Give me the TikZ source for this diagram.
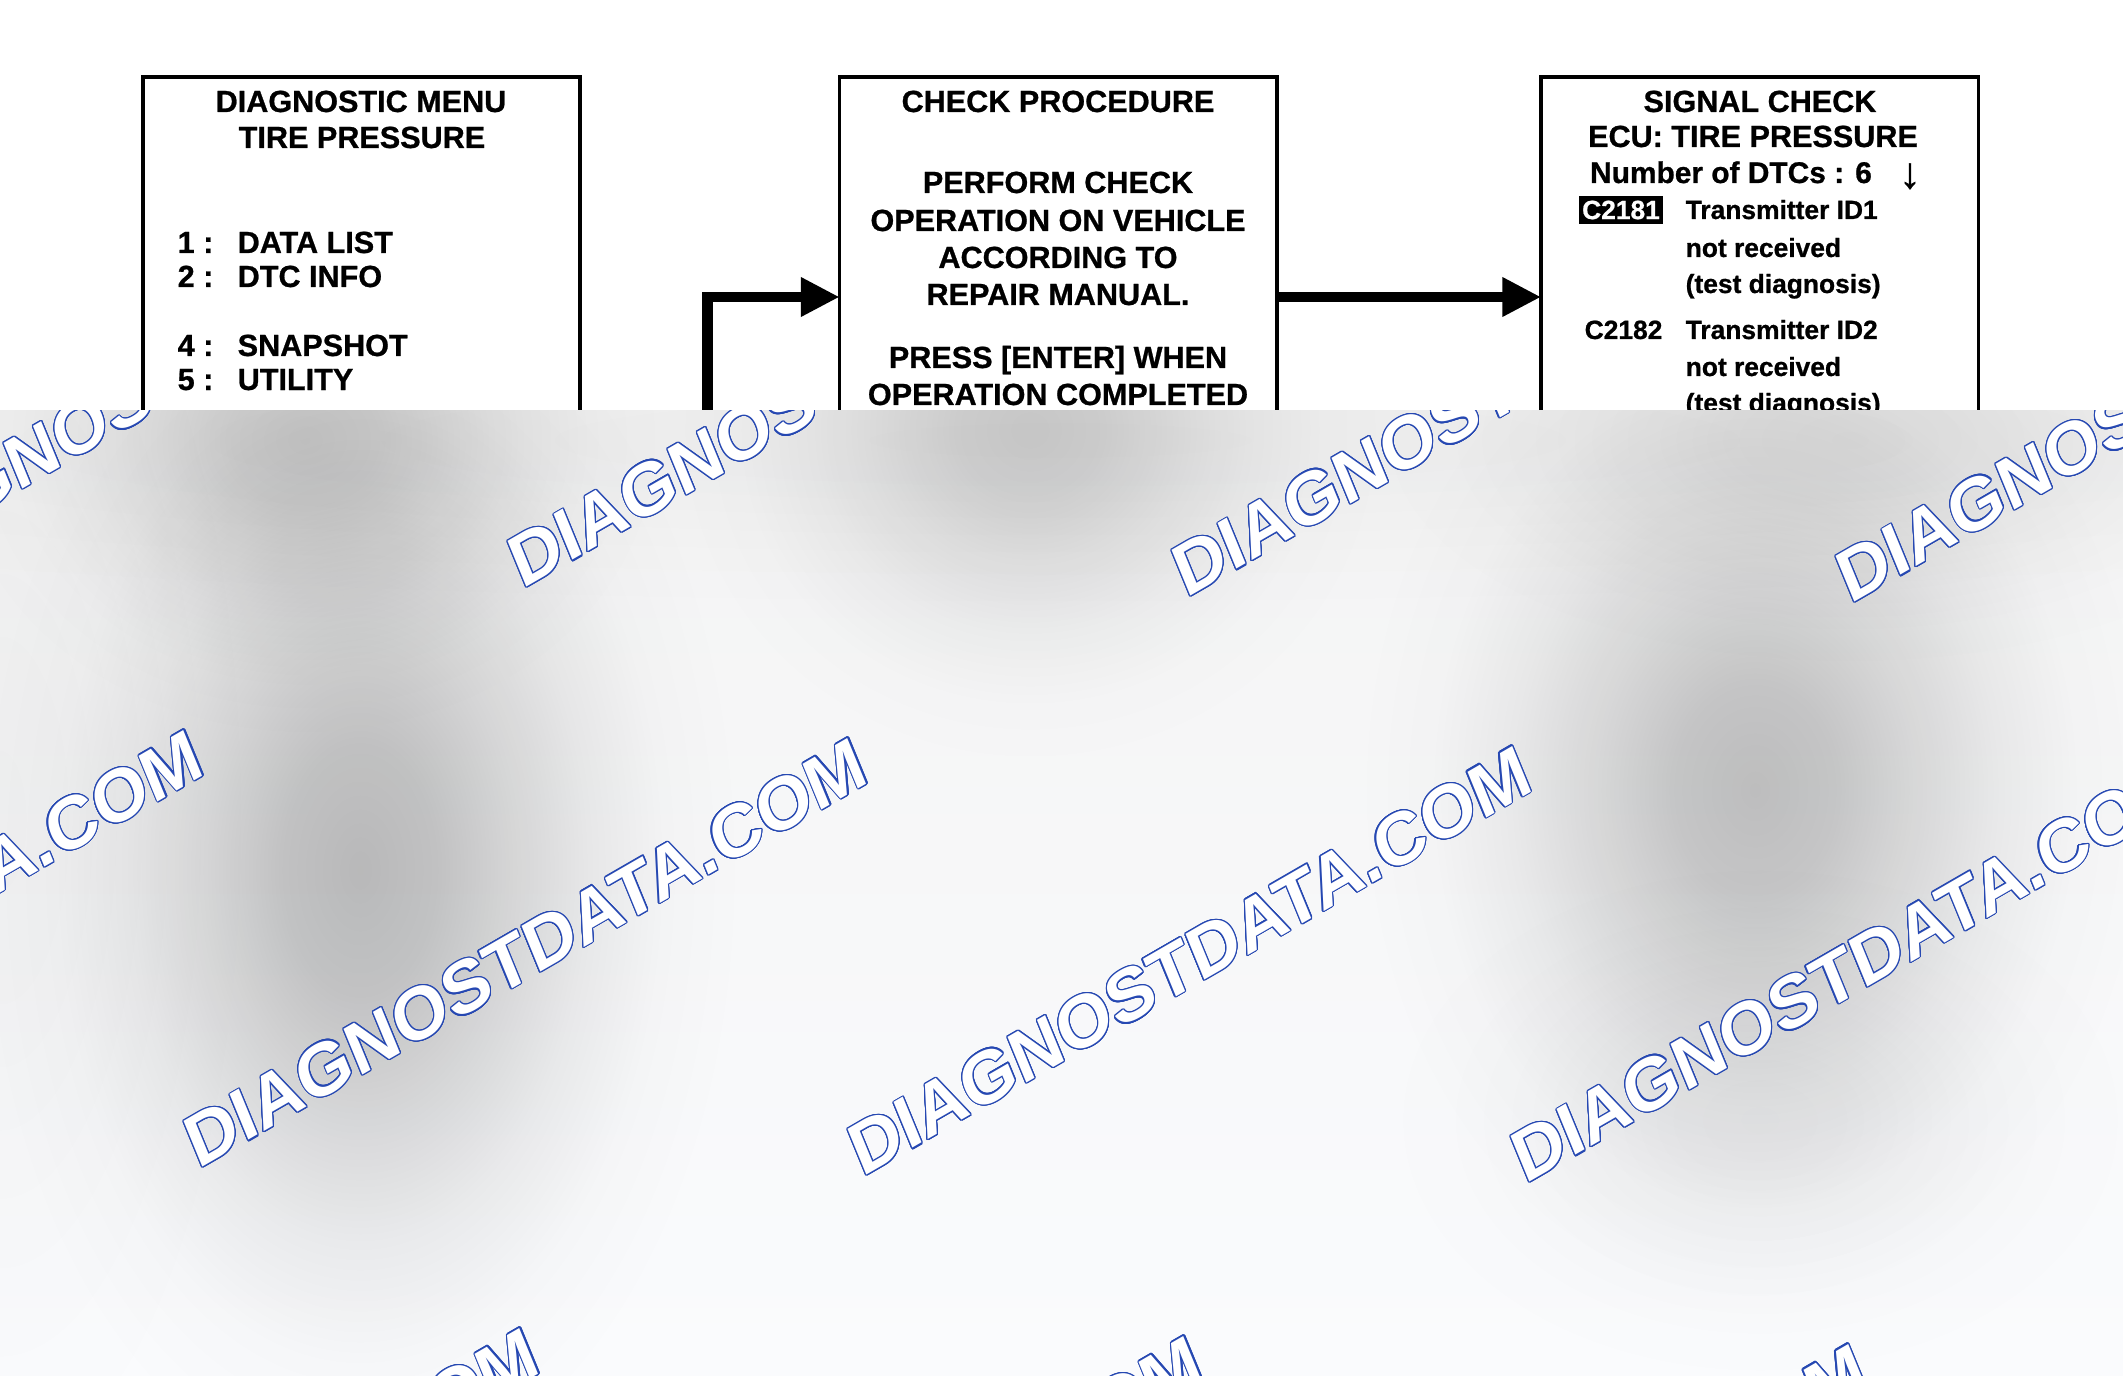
\documentclass[tikz,border=0pt]{standalone}
\usepackage{fontspec}
\setmainfont{Liberation Sans}[BoldFeatures={FakeBold=0.8}]
\newfontfamily\wmfont{Liberation Sans Bold}
\usepackage{contour}
\contourlength{0.34pt}
\contournumber{20}
\usetikzlibrary{arrows.meta,fadings}
\definecolor{wmblue}{RGB}{38,72,178}
\definecolor{bgtop}{RGB}{244,244,244}
\definecolor{bgbot}{RGB}{250,251,253}
\pgfdeclareradialshading{blobshade}{\pgfpointorigin}{color(0bp)=(white); color(5bp)=(white!86!black); color(10bp)=(white!54!black); color(15bp)=(white!25!black); color(20bp)=(white!6!black); color(25bp)=(black); color(50bp)=(black)}
\pgfdeclarefading{blob}{\pgfuseshading{blobshade}}
\begin{document}
\begin{tikzpicture}[x=0.01cm, y=-0.01cm,
  box/.style={draw=black, line width=0.95pt, minimum width=4.37cm, minimum height=4.4cm, inner sep=0pt, outer sep=0pt},
  lbl/.style={font=\fontsize{8.7}{10}\selectfont\bfseries, inner sep=0pt, anchor=base},
  lbll/.style={lbl, anchor=base west},
  dtc/.style={font=\fontsize{7.5}{9}\selectfont\bfseries, inner sep=0pt, anchor=base west},
  conn/.style={line width=3.1pt, line join=miter, -{Triangle[length=11pt,width=10.5pt]}},
  wm/.style={anchor=base west, inner sep=0pt, transform shape, text=white, font=\wmfont\fontsize{21}{24}\selectfont},
  blobfill/.style={fill=black, path fading=blob}
]
\useasboundingbox (0,0) rectangle (2123,1376);
\fill[white] (0,0) rectangle (2123,1376);

% boxes
\node[box] (b1) at (361.5,297) {};
\node[box] (b2) at (1058.25,297) {};
\node[box] (b3) at (1759.75,297) {};

% box 1 text
\node[lbl] (t11) at (361,112) {DIAGNOSTIC MENU};
\node[lbl] (t12) at (362,148) {TIRE PRESSURE};
\node[lbll] (n1) at (177,253) {1 :};
\node[lbll] (m1) at (237,253) {DATA LIST};
\node[lbll] (n2) at (177,287) {2 :};
\node[lbll] (m2) at (237,287) {DTC INFO};
\node[lbll] (n4) at (177,356) {4 :};
\node[lbll] (m4) at (237,356) {SNAPSHOT};
\node[lbll] (n5) at (177,390) {5 :};
\node[lbll] (m5) at (237,390) {UTILITY};

% box 2 text
\node[lbl] (t21) at (1058,112) {CHECK PROCEDURE};
\node[lbl] (t22) at (1058,193) {PERFORM CHECK};
\node[lbl] (t23) at (1058,231) {OPERATION ON VEHICLE};
\node[lbl] (t24) at (1058,268) {ACCORDING TO};
\node[lbl] (t25) at (1058,305) {REPAIR MANUAL.};
\node[lbl] (t26) at (1058,368) {PRESS [ENTER] WHEN};
\node[lbl] (t27) at (1058,405) {OPERATION COMPLETED};

% box 3 text
\node[lbl] (t31) at (1760,112) {SIGNAL CHECK};
\node[lbl] (t32) at (1753,147) {ECU: TIRE PRESSURE};
\node[lbl, font=\fontsize{8.5}{10}\selectfont\bfseries] (t33) at (1731,183) {Number of DTCs : 6};
\node[lbl, font=\fontsize{12.5}{14}\selectfont\bfseries] (darr) at (1910,188) {↓};
\node[fill=black, text=white, inner sep=0pt, minimum width=0.84cm, minimum height=0.27cm,
      font=\fontsize{7.5}{9}\selectfont\bfseries] (c1) at (1621,210) {C2181};
\node[dtc] (d11) at (1685,219) {Transmitter ID1};
\node[dtc] (d12) at (1685,257) {not received};
\node[dtc] (d13) at (1685,293) {(test diagnosis)};
\node[dtc] (c2) at (1584,339) {C2182};
\node[dtc] (d21) at (1685,339) {Transmitter ID2};
\node[dtc] (d22) at (1685,376) {not received};
\node[dtc] (d23) at (1685,412) {(test diagnosis)};

% connectors
\coordinate (loopstart) at (707.5,520);
\draw[conn] (loopstart) |- (b2.west);
\draw[conn] (b2.east) -- (b3.west);

% overlay
\begin{scope}
\clip (0,411) rectangle (2123,1376);
\shade[top color=bgtop, bottom color=bgbot] (0,411) rectangle (2123,1376);
\fill[blobfill, opacity=0.03] (1060,440) ellipse (22cm and 2cm);
\fill[blobfill, opacity=0.03] (0,820) ellipse (3cm and 8cm);
\fill[blobfill, opacity=0.17] (305,440) ellipse (3.6cm and 3cm);
\fill[blobfill, opacity=0.16] (1030,430) ellipse (3.6cm and 3.4cm);
\fill[blobfill, opacity=0.25] (360,870) ellipse (3.8cm and 6.2cm);
\fill[blobfill, opacity=0.23] (1755,790) ellipse (4cm and 5.2cm);
\fill[blobfill, opacity=0.08] (1850,440) ellipse (5cm and 2.4cm);
\fill[blobfill, opacity=0.06] (1760,1120) ellipse (4cm and 2.8cm);
\foreach \px/\py in {-142/584, 522/590, 1186/599, 1850/605, -466/1162, 198/1170, 862/1178, 1525/1185, -130/1760, 534/1768, 1198/1776, 1862/1784} {
  \begin{scope}[shift={(\px,\py)}, cm={0.866,0.5,-0.37,0.9,(0,0)}]
    \node[wm] (wm\px) at (0,0) {\contour{wmblue}{DIAGNOSTDATA.COM}};
  \end{scope}
}
\end{scope}
\end{tikzpicture}
\end{document}
